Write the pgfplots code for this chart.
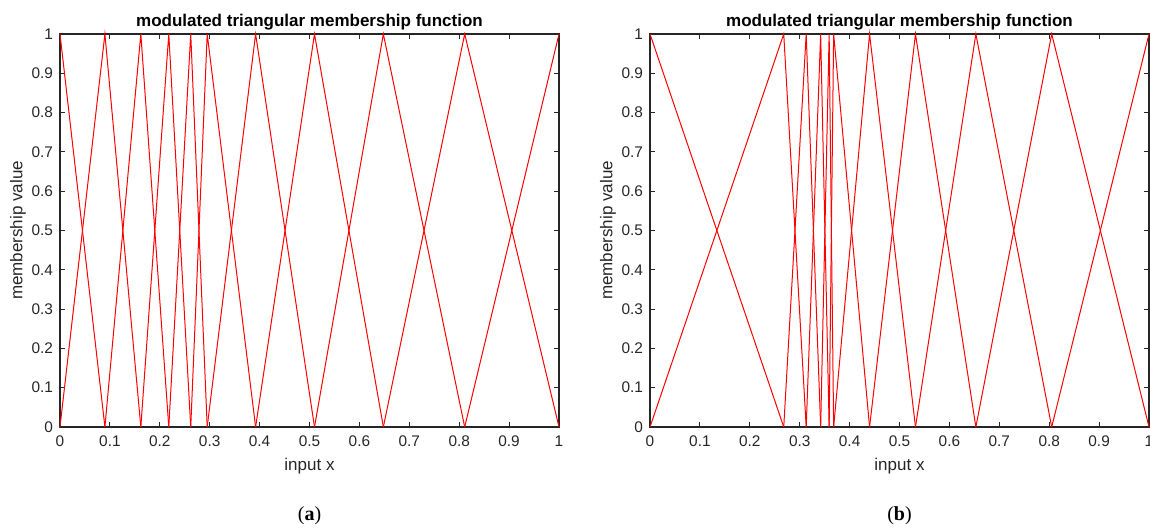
\documentclass[border=0pt]{standalone}
\usepackage{fontspec}
\setmainfont{Liberation Sans}
\newfontfamily\capfont{Liberation Serif}
\usepackage{pgfplots}
\pgfplotsset{compat=1.18}
\definecolor{axgray}{gray}{0.15}

\pgfplotsset{
  mfaxis/.style={
    scale only axis,
    width=249.5pt, height=196.5pt,
    anchor=south west,
    xmin=0, xmax=1, ymin=0, ymax=1,
    xtick={0,0.1,0.2,0.3,0.4,0.5,0.6,0.7,0.8,0.9,1},
    ytick={0,0.1,0.2,0.3,0.4,0.5,0.6,0.7,0.8,0.9,1},
    tick align=inside,
    major tick length=2.5pt,
    axis line style={axgray, line width=0.6pt},
    tick style={axgray, line width=0.5pt},
    tick label style={font=\fontsize{7.7}{9}\selectfont, text=axgray},
    xticklabel style={yshift=-1pt},
    /pgf/number format/assume math mode=true,
    every axis title shift=0pt,
    title style={font=\bfseries\fontsize{8.5}{10}\selectfont,
      at={(axis description cs:0.5,1.031)}, anchor=center},
    xlabel style={font=\fontsize{8.5}{10}\selectfont, text=axgray,
      at={(axis description cs:0.5,-0.099)}, anchor=center},
    ylabel style={font=\fontsize{8.5}{10}\selectfont, text=axgray,
      at={(axis description cs:-0.084,0.5)}, anchor=center},
    title={modulated triangular membership function},
    xlabel={input x},
    ylabel={membership value},
    no markers,
    clip=false,
    every axis plot post/.append style={red, solid, line width=0.5pt},
  }
}

\begin{document}
\begin{tikzpicture}
\path[use as bounding box] (0,0) rectangle (575pt,264.5pt);

% (a)
\begin{axis}[mfaxis, at={(30pt,51pt)}]
\addplot coordinates {(0,1) (0.090,0)};
\addplot coordinates {(0,0) (0.090,1) (0.162,0)};
\addplot coordinates {(0.090,0) (0.162,1) (0.218,0)};
\addplot coordinates {(0.162,0) (0.218,1) (0.262,0)};
\addplot coordinates {(0.218,0) (0.262,1) (0.295,0)};
\addplot coordinates {(0.262,0) (0.295,1) (0.392,0)};
\addplot coordinates {(0.295,0) (0.392,1) (0.510,0)};
\addplot coordinates {(0.392,0) (0.510,1) (0.648,0)};
\addplot coordinates {(0.510,0) (0.648,1) (0.811,0)};
\addplot coordinates {(0.648,0) (0.811,1) (1,0)};
\addplot coordinates {(0.811,0) (1,1)};
\node[font=\capfont\fontsize{10}{11}\selectfont] at (axis description cs:0.5,-0.2265) {(\textbf{a})};
\end{axis}

% (b)
\begin{axis}[mfaxis, at={(325pt,51pt)}]
\addplot coordinates {(0,1) (0.268,0)};
\addplot coordinates {(0,0) (0.268,1) (0.313,0)};
\addplot coordinates {(0.268,0) (0.313,1) (0.342,0)};
\addplot coordinates {(0.313,0) (0.342,1) (0.359,0)};
\addplot coordinates {(0.342,0) (0.359,1) (0.368,0)};
\addplot coordinates {(0.359,0) (0.368,1) (0.440,0)};
\addplot coordinates {(0.368,0) (0.440,1) (0.532,0)};
\addplot coordinates {(0.440,0) (0.532,1) (0.653,0)};
\addplot coordinates {(0.532,0) (0.653,1) (0.805,0)};
\addplot coordinates {(0.653,0) (0.805,1) (1,0)};
\addplot coordinates {(0.805,0) (1,1)};
\node[font=\capfont\fontsize{10}{11}\selectfont] at (axis description cs:0.5,-0.2265) {(\textbf{b})};
\end{axis}
\end{tikzpicture}
\end{document}
